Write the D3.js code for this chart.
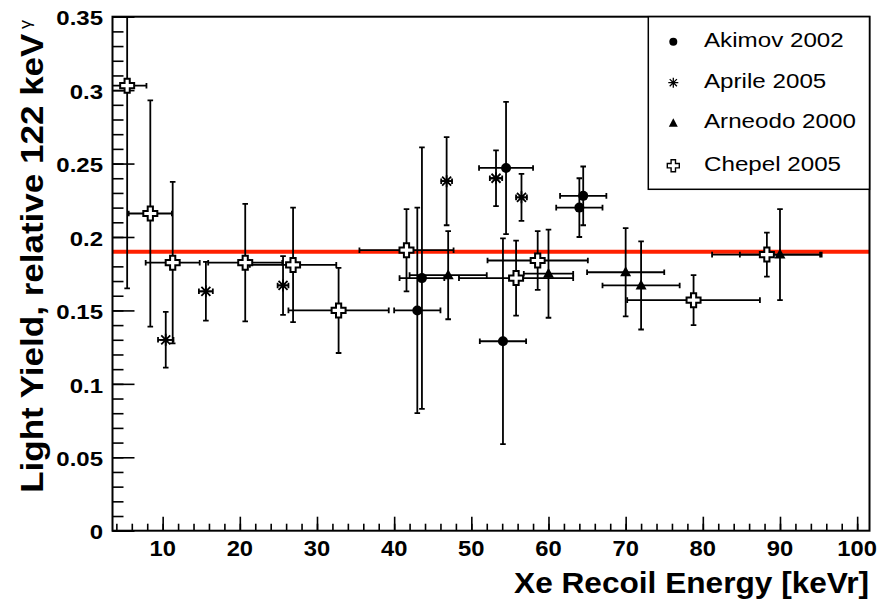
<!DOCTYPE html>
<html><head><meta charset="utf-8">
<script src="https://cdn.jsdelivr.net/npm/d3@7"></script>
<style>
html,body{margin:0;padding:0;background:#fff;}
svg{display:block;font-family:"Liberation Sans",Arial,Helvetica,sans-serif;}
</style></head>
<body><svg id="c" width="892" height="605"></svg>
<script>
// ---- data ----
const akimovX    = [43.0, 43.6, 54.5, 54.1, 64.5, 64.0];
const akimovY    = [0.150, 0.172, 0.247, 0.129, 0.228, 0.220];
const akimovXErr = [3.0, 2.9, 3.5, 3.0, 3.0, 3.0];
const akimovYErr = [0.070, 0.089, 0.045, 0.070, 0.020, 0.020];

const aprileX    = [10.4, 15.6, 25.6, 46.8, 53.2, 56.5];
const aprileY    = [0.130, 0.163, 0.167, 0.238, 0.240, 0.227];
const aprileXErr = [1.0, 0.9, 0.7, 0.7, 0.8, 0.7];
const aprileYErr = [0.019, 0.020, 0.020, 0.030, 0.019, 0.016];

const arneodoX    = [47.0, 60.0, 70.0, 72.0, 90.0];
const arneodoY    = [0.174, 0.175, 0.176, 0.167, 0.188];
const arneodoXErr = [5.0, 3.2, 5.0, 5.0, 5.2];
const arneodoYErr = [0.030, 0.030, 0.030, 0.030, 0.031];

const chepelX    = [5.4, 8.4, 11.3, 20.7, 26.9, 32.8, 41.6, 55.8, 58.6, 78.8, 88.3];
const chepelY    = [0.303, 0.216, 0.1825, 0.1825, 0.181, 0.150, 0.191, 0.172, 0.184, 0.157, 0.188];
const chepelXErr = [2.5, 2.8, 3.5, 4.8, 5.6, 6.5, 6.1, 7.4, 6.5, 8.6, 7.1];
const chepelYErr = [0.138, 0.077, 0.055, 0.040, 0.039, 0.029, 0.028, 0.0255, 0.020, 0.017, 0.015];

const meanYield = 0.19;
const xTickValues = [10,20,30,40,50,60,70,80,90,100];
const yTickLabels = ["0","0.05","0.1","0.15","0.2","0.25","0.3","0.35"];
const legendLabels = ["Akimov 2002","Aprile 2005","Arneodo 2000","Chepel 2005"];
const xTitle = "Xe Recoil Energy [keVr]";
const yTitle = "Light Yield, relative 122 keV";

// ---- layout ----
const L = 112.5, R = 869.5, T = 16.7, B = 530.7;
const svg = d3.select("#c");
const x = d3.scaleLinear().domain([3.5, 101.6]).range([L, R]);
const y = d3.scaleLinear().domain([0, 0.35]).range([B, T]);

svg.append("defs").append("clipPath").attr("id","clip")
  .append("rect").attr("x",L).attr("y",T).attr("width",R-L).attr("height",B-T);

// ticks (inward)
const gx = svg.append("g").attr("transform",`translate(0,${B})`);
gx.call(d3.axisTop(x).tickValues(d3.range(4,101,2)).tickSize(7).tickFormat(""));
gx.selectAll("line").attr("stroke","#000").attr("stroke-width",1.6);
const gx2 = svg.append("g").attr("transform",`translate(0,${B})`);
gx2.call(d3.axisTop(x).tickValues(xTickValues).tickSize(14).tickFormat(""));
gx2.selectAll("line").attr("stroke","#000").attr("stroke-width",1.6);
[gx,gx2].forEach(g=>g.select(".domain").remove());

const gy = svg.append("g").attr("transform",`translate(${L},0)`);
gy.call(d3.axisRight(y).tickValues(d3.range(0,36).map(i=>i/100)).tickSize(11).tickFormat(""));
gy.selectAll("line").attr("stroke","#000").attr("stroke-width",1.6);
const gy2 = svg.append("g").attr("transform",`translate(${L},0)`);
gy2.call(d3.axisRight(y).tickValues(yTickLabels.map(Number)).tickSize(22).tickFormat(""));
gy2.selectAll("line").attr("stroke","#000").attr("stroke-width",1.6);
[gy,gy2].forEach(g=>g.select(".domain").remove());

// tick labels
svg.append("g").selectAll("text").data(xTickValues).join("text")
  .attr("transform",d=>`translate(${x(d)},556) scale(1.08,1)`).attr("text-anchor","middle")
  .attr("font-size",22).attr("font-weight","bold").text(d=>d);
svg.append("g").selectAll("text").data(yTickLabels).join("text")
  .attr("transform",d=>`translate(103,${y(+d)+3.5}) scale(1.2,1)`).attr("text-anchor","end")
  .attr("dominant-baseline","middle")
  .attr("font-size",20).attr("font-weight","bold").text(d=>d);

// titles
svg.append("text").attr("transform","translate(869,593) scale(1.054,1)").attr("text-anchor","end")
  .attr("font-size",30).attr("font-weight","bold").text(xTitle);
const yt = svg.append("text").attr("transform","translate(43,20) rotate(-90) scale(1.13,1)")
  .attr("text-anchor","end").attr("font-size",31).attr("font-weight","bold");
yt.append("tspan").text(yTitle);
yt.append("tspan").attr("font-weight","normal").attr("font-size",16).attr("dx",4).attr("dy",-12).text("γ");

// mean line
svg.append("line").attr("x1",L).attr("x2",R).attr("y1",y(meanYield)).attr("y2",y(meanYield))
  .attr("stroke","#ff2000").attr("stroke-width",4);

// error bars
const plot = svg.append("g").attr("clip-path","url(#clip)");
function series(xs, ys, exs, eys){ return xs.map((v,i)=>({x:v,y:ys[i],ex:exs[i],ey:eys[i]})); }
const akimov = series(akimovX,akimovY,akimovXErr,akimovYErr);
const aprile = series(aprileX,aprileY,aprileXErr,aprileYErr);
const arneodo = series(arneodoX,arneodoY,arneodoXErr,arneodoYErr);
const chepel = series(chepelX,chepelY,chepelXErr,chepelYErr);
const cap = 2.8;
function drawErr(data){
  const g = plot.append("g").attr("stroke","#000").attr("stroke-width",1.8).attr("fill","none");
  data.forEach(d=>{
    const cx=x(d.x), cy=y(d.y), x0=x(d.x-d.ex), x1=x(d.x+d.ex), y0=y(d.y-d.ey), y1=y(d.y+d.ey);
    g.append("path").attr("d",
      `M${x0},${cy}H${x1}M${cx},${y0}V${y1}`+
      `M${x0},${cy-cap}V${cy+cap}M${x1},${cy-cap}V${cy+cap}`+
      `M${cx-cap},${y0}H${cx+cap}M${cx-cap},${y1}H${cx+cap}`);
  });
}
[akimov,aprile,arneodo,chepel].forEach(drawErr);

// markers
function circle(g){ g.append("circle").attr("r",5).attr("fill","#000"); }
function star(g){
  const s=6, d=4.5;
  g.append("path").attr("d",`M${-s},0H${s}M0,${-s}V${s}M${-d},${-d}L${d},${d}M${-d},${d}L${d},${-d}`)
    .attr("stroke","#000").attr("stroke-width",1.8);
}
function tri(g){ g.append("path").attr("d","M0,-6L5.5,4L-5.5,4Z").attr("fill","#000"); }
function cross(g){
  const h=7, w=2.6;
  g.append("path").attr("d",`M${-w},${-h}H${w}V${-w}H${h}V${w}H${w}V${h}H${-w}V${w}H${-h}V${-w}H${-w}Z`)
    .attr("fill","#fff").attr("stroke","#000").attr("stroke-width",2);
}
function drawMarkers(data, fn){
  data.forEach(d=>{ const g=plot.append("g").attr("transform",`translate(${x(d.x)},${y(d.y)})`); fn(g); });
}
drawMarkers(akimov,circle); drawMarkers(aprile,star); drawMarkers(arneodo,tri); drawMarkers(chepel,cross);

// frame
svg.append("rect").attr("x",L).attr("y",T).attr("width",R-L).attr("height",B-T)
  .attr("fill","none").attr("stroke","#000").attr("stroke-width",2);

// legend
const lg = svg.append("g");
lg.append("rect").attr("x",648.3).attr("y",T).attr("width",R-648.3).attr("height",189.3-T)
  .attr("fill","#fff").attr("stroke","#000").attr("stroke-width",1.5);
const legY=[41.7,82.7,123.3,165.7];
const fns=[g=>g.append("circle").attr("r",4).attr("fill","#000"),
  g=>{const s=5,d=3.6;g.append("path").attr("d",`M${-s},0H${s}M0,${-s}V${s}M${-d},${-d}L${d},${d}M${-d},${d}L${d},${-d}`).attr("stroke","#000").attr("stroke-width",1.3);},
  g=>g.append("path").attr("d","M0,-5L4.5,3.5L-4.5,3.5Z").attr("fill","#000"),
  g=>{const h=6,w=2.2;g.append("path").attr("d",`M${-w},${-h}H${w}V${-w}H${h}V${w}H${w}V${h}H${-w}V${w}H${-h}V${-w}H${-w}Z`).attr("fill","#fff").attr("stroke","#000").attr("stroke-width",1.4);}];
legendLabels.forEach((t,i)=>{
  const g=lg.append("g").attr("transform",`translate(673.3,${legY[i]})`); fns[i](g);
  lg.append("text").attr("transform",`translate(704,${legY[i]}) scale(1.24,1)`).attr("dominant-baseline","middle")
    .attr("font-size",19.5).text(t);
});
</script></body></html>
